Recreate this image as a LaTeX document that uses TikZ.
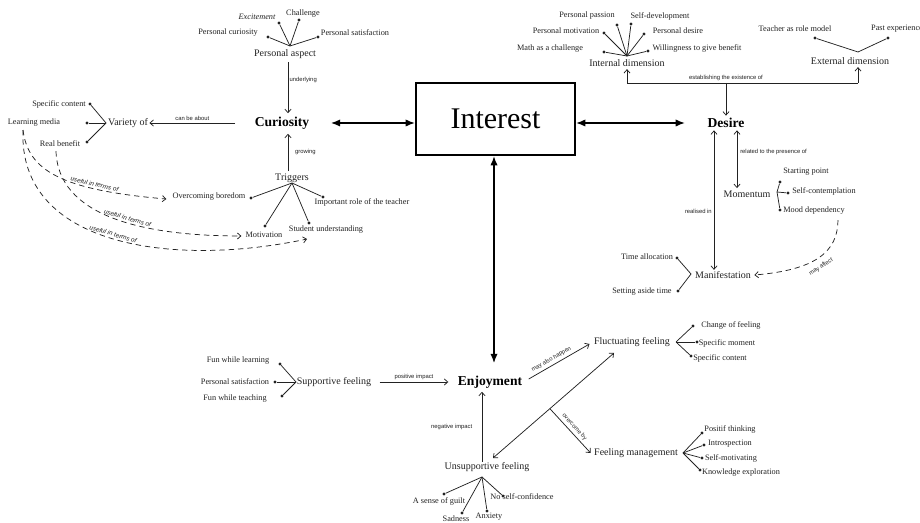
\documentclass[tikz,border=0pt]{standalone}
\usepackage{fontspec}
\setmainfont{Liberation Serif}
\setsansfont{Liberation Sans}
\usetikzlibrary{arrows.meta,calc}
\definecolor{ink}{HTML}{222222}
\begin{document}
\begin{tikzpicture}[x=0.75pt,y=-0.75pt,
  leaf/.style={font=\fontsize{6.2}{7}\selectfont, text=ink, inner sep=0pt},
  mid/.style={font=\fontsize{7.5}{9}\selectfont, text=ink, inner sep=1pt},
  main/.style={font=\bfseries\fontsize{10.2}{12}\selectfont, text=black, inner sep=1pt},
  elabel/.style={font=\sffamily\fontsize{4.4}{5}\selectfont, text=ink, inner sep=0pt},
  ulabel/.style={font=\sffamily\itshape\fontsize{4.8}{5}\selectfont, text=ink, inner sep=0pt},
  conn/.style={draw=ink, line width=0.55pt},
  arr/.style={conn, -{Straight Barb[length=2.6pt,width=4.6pt]}},
  darr/.style={conn, {Straight Barb[length=2.6pt,width=4.6pt]}-{Straight Barb[length=2.6pt,width=4.6pt]}},
  dasharr/.style={arr, dash pattern=on 4pt off 3pt},
  bigarr/.style={draw=black, line width=1.2pt, {Latex[length=7pt,width=5.5pt]}-{Latex[length=7pt,width=5.5pt]}},
  dot/.style={circle, fill=ink, inner sep=0pt, minimum size=2.4pt},
]
\useasboundingbox[fill=white] (0,0) rectangle (920,523);

% ---------- centre ----------
\node[draw=black, line width=1.5pt, minimum width=119.25pt, minimum height=54pt,
      font=\fontsize{22.5}{26}\selectfont, inner sep=0pt] (int) at (495.5,119) {Interest};

% ---------- curiosity branch ----------
\node[main] (cur) at (282,123) {Curiosity};
\node[mid] (pasp) at (285,54) {Personal aspect};
\node[leaf, font=\itshape\fontsize{6.2}{7}\selectfont] (exc) at (257,17) {Excitement};
\node[leaf] (chal) at (303,14) {Challenge};
\node[leaf] (pcur) at (228,33) {Personal curiosity};
\node[leaf] (psat) at (355,33) {Personal satisfaction};
\coordinate (hpa) at (290,46);
\node[dot] (dexc) at (279,23) {};
\node[dot] (dchal) at (299,20) {};
\node[dot] (dpcur) at (268,37) {};
\node[dot] (dpsat) at (318,37) {};
\foreach \d in {dexc,dchal,dpcur,dpsat} \draw[conn] (hpa) -- (\d);

\draw[arr] ($(pasp.south)+(3,2)$) -- ($(cur.north)+(6,-2)$)
  node[elabel, pos=0.35, anchor=west, xshift=1pt] {underlying};

\node[mid] (var) at (128,123) {Variety of};
\draw[arr] ($(cur.west)+(-18,0)$) -- (var.east)
  node[elabel, midway, above=1.2pt] {can be about};
\coordinate (hvar) at (106,123);
\node[leaf] (spc) at (59,104) {Specific content};
\node[leaf] (lmed) at (34,123) {Learning media};
\node[leaf] (rben) at (60,144) {Real benefit};
\node[dot] (dspc) at (90,104) {};
\node[dot] (dlmed) at (87,123) {};
\node[dot] (drben) at (87,142) {};
\foreach \d in {dspc,dlmed,drben} \draw[conn] (hvar) -- (\d);

\node[mid] (trig) at (292,178) {Triggers};
\draw[arr] ($(trig.north)+(-4,-1)$) -- ($(cur.south)+(6,3)$)
  node[elabel, midway, anchor=west, xshift=5pt] {growing};
\coordinate (htrig) at (292,183);
\node[leaf] (ovb) at (209,197) {Overcoming boredom};
\node[leaf] (irt) at (362,202) {Important role of the teacher};
\node[leaf] (mot) at (264,235) {Motivation};
\node[leaf] (stu) at (326,230) {Student understanding};
\node[dot] (dovb) at (251,198) {};
\node[dot] (dirt) at (323,197) {};
\node[dot] (dmot) at (265,226) {};
\node[dot] (dstu) at (309,223) {};
\foreach \d in {dovb,dirt,dmot,dstu} \draw[conn] (htrig) -- (\d);

% dashed "useful in terms of" links, labels riding on the curves
\draw[dasharr] ($(lmed.south)+(-11,3)$) .. controls (28,170) and (60,190) .. ($(ovb.west)+(-6,2)$)
  node[ulabel, sloped, above=1.5pt, pos=0.72] {useful in terms of};
\draw[dasharr] ($(rben.south)+(-4,4)$) .. controls (58,215) and (140,236) .. ($(mot.west)+(-4,1)$)
  node[ulabel, sloped, above=1.5pt, pos=0.57] {useful in terms of};
\draw[dasharr] ($(lmed.south)+(-11,3)$) .. controls (18,245) and (170,268) .. ($(stu.south)+(-19,5)$)
  node[ulabel, sloped, above=1.5pt, pos=0.5] {useful in terms of};

\draw[bigarr] ($(cur.east)+(20,0)$) -- (cur.east -| int.west);

% ---------- desire branch ----------
\node[main] (des) at (726,123) {Desire};
\draw[bigarr] (int.east |- des.west) -- ($(des.west)+(-21,0)$);

\node[mid] (intd) at (627,63) {Internal dimension};
\node[mid] (extd) at (850,61) {External dimension};
\node[leaf] (ppas) at (587,16) {Personal passion};
\node[leaf] (sdev) at (660,16) {Self-development};
\node[leaf] (pmot) at (566,31) {Personal motivation};
\node[leaf] (pdes) at (678,31) {Personal desire};
\node[leaf] (math) at (550,49) {Math as a challenge};
\node[leaf] (will) at (697,48) {Willingness to give benefit};
\coordinate (hid) at (627,56);
\node[dot] (dppas) at (617,25) {};
\node[dot] (dsdev) at (631,24) {};
\node[dot] (dpmot) at (604,33) {};
\node[dot] (dpdes) at (644,34) {};
\node[dot] (dmath) at (604,52) {};
\node[dot] (dwill) at (648,51) {};
\foreach \d in {dppas,dsdev,dpmot,dpdes,dmath,dwill} \draw[conn] (hid) -- (\d);

\node[leaf] (trm) at (795,29) {Teacher as role model};
\node[leaf] (pexp) at (897,29) {Past experience};
\coordinate (hext) at (858,52);
\node[dot] (dtrm) at (815,38) {};
\node[dot] (dpexp) at (888,38) {};
\foreach \d in {dtrm,dpexp} \draw[conn] (hext) -- (\d);

\coordinate (jdes) at (726,83);
\draw[arr] (jdes -| intd.south) -- ($(intd.south)+(0,1)$);
\draw[arr] (jdes -| hext) -- ($(extd.south)+(8,1)$);
\draw[conn] (jdes -| intd.south) -- (jdes -| hext);
\draw[arr] (jdes) -- ($(des.north)+(0,-1)$);
\node[elabel, above=1.5pt] (estl) at (jdes) {establishing the existence of};

\node[mid] (mom) at (747,194) {Momentum};
\node[mid] (man) at (723,275) {Manifestation};
\draw[darr] ($(des.south)+(-12,1)$) -- (man.north -| 714,0);
\node[elabel, anchor=east] (rl) at (712,211) {realised in};
\draw[darr] ($(des.south)+(11,1)$) -- ($(mom.north)+(-10,-1)$);
\node[elabel, anchor=west] (rpl) at (740,152) {related to the presence of};

\coordinate (hmom) at (777,192);
\node[leaf] (stp) at (806,172) {Starting point};
\node[leaf] (scon) at (824,191) {Self-contemplation};
\node[leaf] (mood) at (814,211) {Mood dependency};
\node[dot] (dstp) at (780,182) {};
\node[dot] (dscon) at (788,193) {};
\node[dot] (dmood) at (780,210) {};
\foreach \d in {dstp,dscon,dmood} \draw[conn] (hmom) -- (\d);

\coordinate (hman) at (691,274);
\node[leaf] (tall) at (647,257) {Time allocation};
\node[leaf] (sat) at (642,292) {Setting aside time};
\node[dot] (dtall) at (677,258) {};
\node[dot] (dsat) at (678,291) {};
\foreach \d in {dtall,dsat} \draw[conn] (hman) -- (\d);

\draw[dasharr] ($(mood.south east)+(-7,5)$) .. controls (838,252) and (815,270) .. ($(man.east)+(2,0)$);
\node[elabel, rotate=33] (maff) at (821,267) {may affect};

% ---------- enjoyment branch ----------
\node[main] (enj) at (490,382) {Enjoyment};
\draw[bigarr] (int.south -| 494,0) -- ($(enj.north)+(4,-11)$);

\node[mid] (sup) at (334,382) {Supportive feeling};
\coordinate (hsup) at (296,382);
\node[leaf] (fwl) at (238,361) {Fun while learning};
\node[leaf] (psat2) at (235,382) {Personal satisfaction};
\node[leaf] (fwt) at (235,399) {Fun while teaching};
\node[dot] (dfwl) at (280,364) {};
\node[dot] (dpsat2) at (275,382) {};
\node[dot] (dfwt) at (282,396) {};
\foreach \d in {dfwl,dpsat2,dfwt} \draw[conn] (hsup) -- (\d);
\draw[arr] ($(sup.east)+(7,0)$) -- ($(enj.west)+(-8,0)$)
  node[elabel, midway, above=1.5pt] {positive impact};

\node[mid] (uns) at (487,467) {Unsupportive feeling};
\coordinate (huns) at (482,477);
\node[leaf] (guilt) at (439,501) {A sense of guilt};
\node[leaf] (sad) at (456,519) {Sadness};
\node[leaf] (anx) at (489,517) {Anxiety};
\node[leaf] (ncon) at (522,497) {No self-confidence};
\node[dot] (dguilt) at (444,494) {};
\node[dot] (dsad) at (462,513) {};
\node[dot] (danx) at (487,511) {};
\node[dot] (dncon) at (503,496) {};
\foreach \d in {dguilt,dsad,danx,dncon} \draw[conn] (huns) -- (\d);
\draw[arr] ($(uns.north)+(-5,1)$) -- ($(enj.south)+(-8,2)$)
  node[elabel, midway, anchor=east, xshift=-7pt] {negative impact};

\node[mid] (flu) at (632,342) {Fluctuating feeling};
\node[mid] (fman) at (636,453) {Feeling management};
\draw[arr] ($(enj.east)+(5,-3)$) -- ($(flu.west)+(-3,2)$)
  node[elabel, sloped, above=2pt, pos=0.42] {may also happen};

\coordinate (ub) at (493,458);
\coordinate (ft) at (614,353);
\draw[darr] (ub) -- (ft);
\coordinate (ob) at ($(ub)!0.47!(ft)$);
\draw[arr] (ob) -- ($(fman.west)+(-2,0)$)
  node[elabel, sloped, above=2pt, pos=0.5] {overcome by};

\coordinate (hflu) at (676,342);
\node[leaf] (chf) at (731,325) {Change of feeling};
\node[leaf] (spm) at (727,343) {Specific moment};
\node[leaf] (spcn) at (720,358) {Specific content};
\node[dot] (dchf) at (693,326) {};
\node[dot] (dspm) at (697,342) {};
\node[dot] (dspcn) at (691,356) {};
\foreach \d in {dchf,dspm,dspcn} \draw[conn] (hflu) -- (\d);

\coordinate (hfman) at (683,453);
\node[leaf] (pth) at (730,429) {Positif thinking};
\node[leaf] (intr) at (730,444) {Introspection};
\node[leaf] (smot) at (731,458) {Self-motivating};
\node[leaf] (kexp) at (741,473) {Knowledge exploration};
\node[dot] (dpth) at (702,433) {};
\node[dot] (dintr) at (704,445) {};
\node[dot] (dsmot) at (702,458) {};
\node[dot] (dkexp) at (700,470) {};
\foreach \d in {dpth,dintr,dsmot,dkexp} \draw[conn] (hfman) -- (\d);
\end{tikzpicture}
\end{document}
